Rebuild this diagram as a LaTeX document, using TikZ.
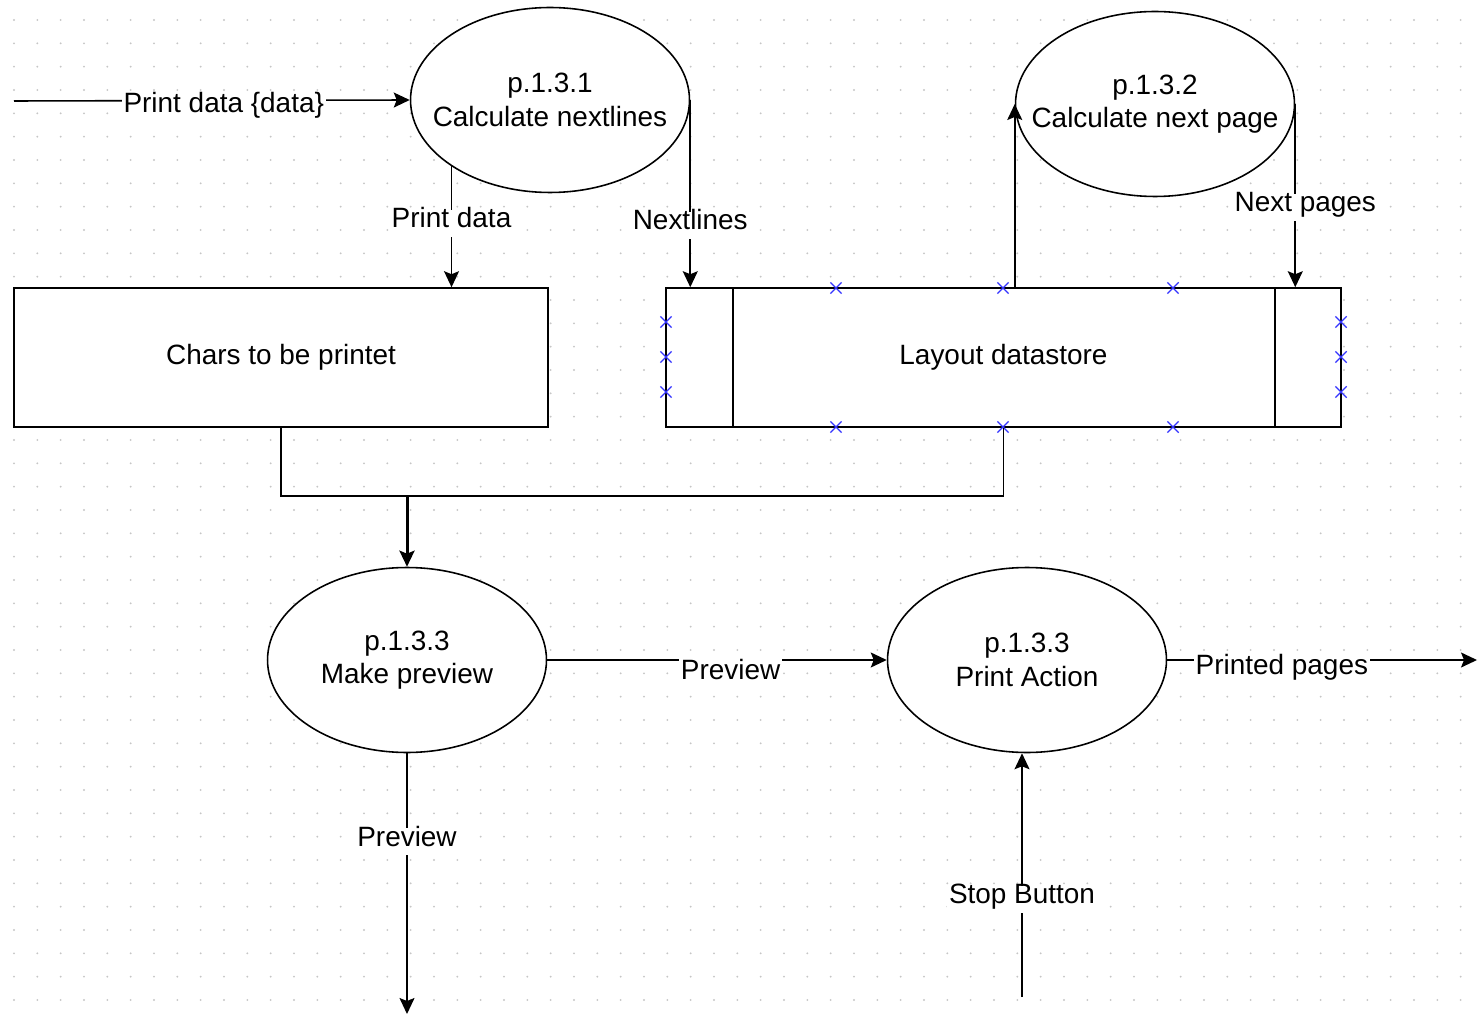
\documentclass[tikz,border=0pt]{standalone}
\usepackage{fontspec}
\setmainfont{Liberation Sans}
\usetikzlibrary{shapes.geometric,shapes.misc,arrows.meta,positioning}

\tikzset{
  proc/.style={draw, ellipse, fill=white, line width=0.9pt, minimum width=5.58cm, minimum height=3.7cm, inner sep=0pt},
  datastore/.style={draw, rectangle, fill=white, line width=0.9pt, minimum height=2.78cm},
  flow/.style={line width=0.9pt, -{Stealth[length=0.32cm,width=0.3cm,inset=0.06cm]}},
  lbl/.style={fill=white, inner xsep=1pt, inner ysep=3pt, text height=0.72em, text depth=0.22em},
  xmark/.style={cross out, draw=blue!80, line width=0.7pt, minimum size=0.2cm, inner sep=0pt},
}

\begin{document}
\begin{tikzpicture}[x=0.02cm, y=-0.02cm, font=\fontsize{15.9}{19}\selectfont]

\fill[white] (0,0) rectangle (1479,1016);
\useasboundingbox (0,0) rectangle (1479,1016);
\foreach \i in {0,...,62}
  \foreach \j in {0,...,42}
    \fill[gray!45] (14+23.333*\i, 20+23.333*\j) circle[radius=0.6pt];

\node[proc, label={[align=center]center:p.1.3.1\\Calculate nextlines}] (calcnl) at (550,100) {};
\node[proc, label={[align=center]center:p.1.3.2\\Calculate next page}] (calcnp) at (1155,104) {};

\node[datastore, minimum width=10.68cm] (chars) at (281,357.5) {Chars to be printet};
\node[datastore, minimum width=13.5cm] (layout) at (1003.5,357.5) {Layout datastore};
\draw[line width=0.9pt] ([xshift=1.36cm]layout.north west) -- ([xshift=1.36cm]layout.south west);
\draw[line width=0.9pt] ([xshift=-1.34cm]layout.north east) -- ([xshift=-1.34cm]layout.south east);

\node[proc, label={[align=center]center:p.1.3.3\\Make preview}] (preview) at (407,660) {};
\node[proc, label={[align=center]center:p.1.3.3\\Print Action}] (printact) at (1027,660) {};

\foreach \x in {836,1003,1173} {
  \node[xmark] (mt\x) at (\x,288) {};
  \node[xmark] (mb\x) at (\x,427) {};
}
\foreach \y in {322,357,392} {
  \node[xmark] (ml\y) at (666,\y) {};
  \node[xmark] (mr\y) at (1341,\y) {};
}

\coordinate (datain) at (14,101);
\draw[flow] (datain) -- node[lbl, pos=0.53, yshift=-0.16cm] {Print data \{data\}} (calcnl.west);

\draw[flow] (calcnl.214) -- node[lbl, pos=0.47] {Print data} (calcnl.214 |- chars.north);
\draw[flow] (calcnl.east) -- node[lbl, pos=0.67] {Nextlines} (calcnl.east |- layout.north);

\draw[flow] (layout.north -| calcnp.west) -- (calcnp.west);
\draw[flow] (calcnp.east) -- node[lbl, pos=0.565, xshift=0.2cm] {Next pages} (calcnp.east |- layout.north);

\coordinate (merge) at (407,496);
\draw[line width=0.9pt] (chars.south) |- (merge) -| (layout.south);
\draw[flow, line width=1.7pt] (merge) -- (preview.north);

\draw[flow] (preview.east) -- node[lbl, pos=0.54, yshift=-0.3cm, inner ysep=6pt] {Preview} (printact.west);

\coordinate (printout) at (1477,660);
\draw[flow] (printact.east) -- node[lbl, pos=0.37, yshift=-0.2cm] {Printed pages} (printout);

\coordinate (pvout) at (407,1014);
\draw[flow] (preview.south) -- node[lbl, pos=0.34] {Preview} (pvout);

\coordinate (stop) at (1022,997);
\draw[flow] (stop) -- node[lbl, pos=0.40] {Stop Button} (stop |- printact.south);

\end{tikzpicture}
\end{document}
